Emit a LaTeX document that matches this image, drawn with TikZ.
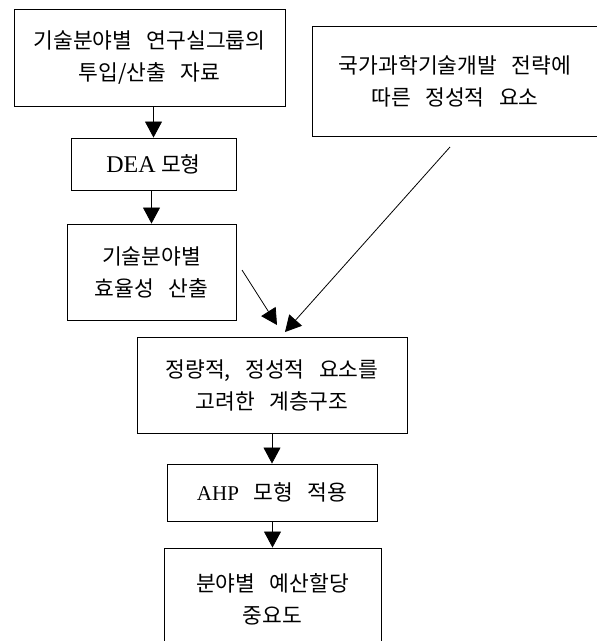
\documentclass[tikz,border=0pt]{standalone}
\usepackage{fontspec}
\setmainfont{Liberation Serif}
\newfontfamily\kr[WordSpace=3]{Noto Sans CJK KR}
\usetikzlibrary{arrows.meta}
\tikzset{ box/.style={draw,line width=0.9pt,align=center,inner sep=2pt,font=\fontsize{21.5}{32}\selectfont},
          flow/.style={line width=0.8pt,-{Triangle[width=17pt,length=16pt]}}}

\begin{document}
\begin{tikzpicture}[x=1pt,y=-1pt]
  \clip (0,0) rectangle (597,641);
  \node[box,minimum width=271pt,minimum height=97pt] (data) at (149.5,57.5) {\kr 기술분야별 연구실그룹의\\\kr 투입/산출 자료};
  \node[box,minimum width=165pt,minimum height=52pt] (dea) at (153.5,164) {{\fontsize{24}{32}\selectfont DEA} {\kr 모형}};
  \node[box,minimum width=169pt,minimum height=96pt] (eff) at (151.5,272) {\kr 기술분야별\\\kr 효율성 산출};
  \node[box,minimum width=286pt,minimum height=110pt] (plan) at (455,81) {\kr 국가과학기술개발 전략에\\\kr 따른 정성적 요소};
  \node[box,minimum width=270pt,minimum height=96pt] (hier) at (272,385) {\kr 정량적, 정성적 요소를\\\kr 고려한 계층구조};
  \node[box,minimum width=210pt,minimum height=57pt] (ahp) at (272,492.5) {{\fontsize{21}{32}\selectfont AHP}\kr\ 모형 적용};
  \node[box,minimum width=217pt,minimum height=102pt] (alloc) at (272.5,599) {\kr 분야별 예산할당\\\kr 중요도};

  \coordinate (effout) at (242,270);
  \coordinate (effin) at (277,325);
  \coordinate (planout) at (450,147);
  \coordinate (planin) at (285,332);

  \foreach \from/\to in {data/dea, dea/eff, hier/ahp, ahp/alloc}
    \draw[flow] (\to.north |- \from.south) -- (\to.north);
  \draw[flow] (effout) -- (effin);
  \draw[flow] (planout) -- (planin);
\end{tikzpicture}
\end{document}
